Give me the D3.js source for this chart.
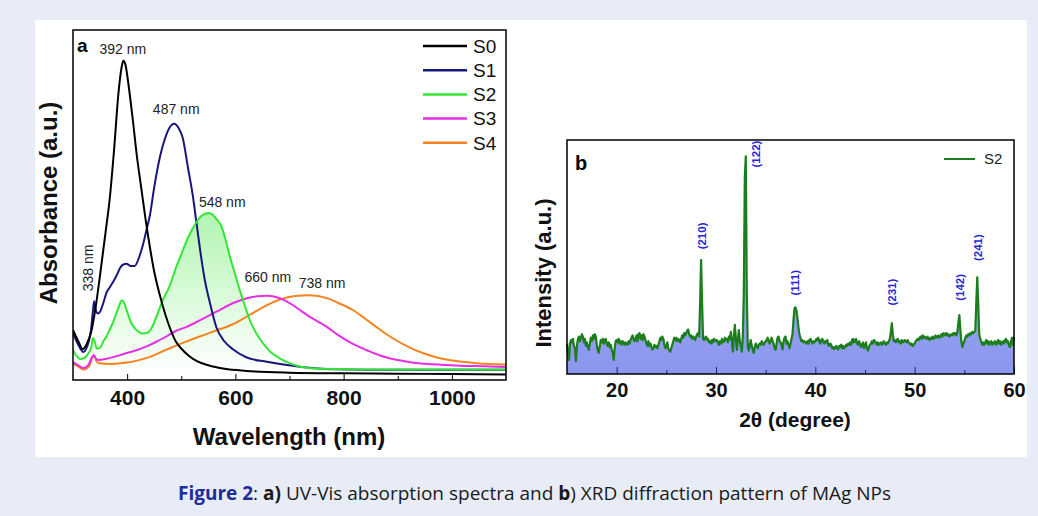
<!DOCTYPE html>
<html>
<head>
<meta charset="utf-8">
<script src="https://cdn.jsdelivr.net/npm/d3@7"></script>
<style>
  body { margin: 0; background: #e8ecf7; }
  svg { display: block; }
</style>
</head>
<body>
<svg id="fig" width="1038" height="516"></svg>
<script>
// UV-Vis spectra, [wavelength nm, absorbance a.u.]
const S0 = [[300,0.143],[310,0.11],[318,0.088],[326,0.105],[334,0.14],[342,0.21],[350,0.3],[360,0.42],[368,0.52],[376,0.66],[384,0.82],[390,0.895],[393,0.912],[397,0.9],[402,0.85],[410,0.75],[418,0.64],[426,0.55],[434,0.46],[442,0.38],[450,0.31],[460,0.245],[470,0.19],[480,0.145],[490,0.11],[500,0.09],[515,0.068],[530,0.053],[550,0.042],[580,0.032],[620,0.026],[700,0.021],[800,0.019],[900,0.018],[1000,0.017],[1100,0.016]];
const S1 = [[300,0.134],[310,0.1],[319,0.08],[326,0.095],[333,0.14],[337,0.2],[339,0.225],[342,0.2],[346,0.19],[350,0.195],[356,0.22],[362,0.25],[368,0.265],[374,0.28],[381,0.3],[387,0.32],[393,0.33],[399,0.332],[406,0.326],[414,0.326],[422,0.35],[429,0.385],[436,0.43],[442,0.47],[450,0.55],[461,0.64],[470,0.69],[478,0.72],[487,0.732],[495,0.72],[503,0.69],[512,0.61],[522,0.52],[528,0.45],[535,0.37],[543,0.29],[553,0.22],[565,0.15],[580,0.11],[596,0.087],[620,0.065],[658,0.052],[719,0.038],[780,0.031],[900,0.029],[1000,0.029],[1100,0.029]];
const S2 = [[300,0.086],[306,0.07],[313,0.06],[320,0.062],[328,0.075],[334,0.095],[337,0.12],[340,0.11],[344,0.09],[350,0.092],[356,0.11],[362,0.125],[368,0.145],[374,0.165],[380,0.19],[386,0.215],[390,0.228],[394,0.222],[400,0.195],[407,0.165],[414,0.148],[422,0.137],[430,0.133],[436,0.134],[444,0.145],[454,0.18],[465,0.225],[479,0.27],[490,0.32],[503,0.37],[512,0.405],[522,0.435],[532,0.46],[540,0.472],[550,0.477],[558,0.472],[566,0.458],[574,0.44],[582,0.4],[590,0.352],[600,0.3],[608,0.257],[618,0.21],[627,0.17],[640,0.13],[651,0.105],[665,0.08],[682,0.062],[700,0.048],[720,0.038],[760,0.032],[850,0.03],[1000,0.03],[1100,0.03]];
const S3 = [[300,0.051],[310,0.042],[319,0.034],[328,0.042],[335,0.065],[338,0.071],[342,0.062],[347,0.057],[360,0.06],[380,0.068],[399,0.077],[411,0.082],[436,0.096],[455,0.11],[473,0.125],[490,0.14],[510,0.152],[535,0.171],[566,0.196],[596,0.22],[620,0.233],[640,0.239],[658,0.241],[675,0.237],[690,0.228],[705,0.215],[719,0.2],[740,0.178],[769,0.152],[790,0.128],[817,0.103],[843,0.085],[867,0.07],[900,0.057],[923,0.051],[965,0.045],[1015,0.041],[1060,0.039],[1100,0.037]];
const S4 = [[300,0.046],[310,0.038],[320,0.03],[330,0.04],[336,0.065],[339,0.07],[343,0.055],[348,0.048],[370,0.046],[400,0.05],[420,0.056],[442,0.066],[470,0.085],[503,0.106],[535,0.125],[566,0.142],[596,0.16],[625,0.185],[650,0.207],[682,0.23],[710,0.24],[738,0.242],[769,0.234],[790,0.22],[817,0.2],[840,0.175],[861,0.151],[890,0.12],[923,0.092],[950,0.075],[984,0.06],[1020,0.052],[1046,0.048],[1100,0.044]];

const uvSeries = ["S0", "S1", "S2", "S3", "S4"];
const uvData = [S0, S1, S2, S3, S4];
const uvColors = ["#000000", "#17177e", "#33e633", "#e62ee6", "#f5841f"];
const uvPeaks = [
  { text: "392 nm", wl: 392, a: 0.912 },
  { text: "487 nm", wl: 487, a: 0.732 },
  { text: "548 nm", wl: 548, a: 0.477 },
  { text: "660 nm", wl: 660, a: 0.241 },
  { text: "738 nm", wl: 738, a: 0.242 }
];
const uvTicks = [400, 600, 800, 1000];
const uvMinor = [500, 700, 900];

// XRD pattern of S2: intensity (a.u.) every 0.1 degree from 15.0 to 60.0
const xrdStart = 15, xrdStep = 0.1;
const xrdIntensity = [
  13, 9, 6, 13, 14.5, 13.5, 15, 12, 11, 5.5,            // 15
  12, 15, 16, 14, 15.5, 17, 16, 13.5, 15, 12,           // 16
  13.5, 11.5, 10.3, 13, 15.5, 14, 16.5, 15, 17, 16,     // 17
  12.5, 10, 9, 12, 14.5, 13.5, 15, 13, 14.5, 15,        // 18
  13, 12, 13.5, 11.5, 12.5, 10.5, 9, 6, 11, 14,         // 19
  14.5, 13.5, 15, 13, 14, 12.5, 14, 13.5, 12.5, 13.5,   // 20
  13, 12.5, 14, 13, 14.5, 15.5, 16.5, 15, 14, 15,       // 21
  16.5, 14, 17, 17.5, 15, 16.5, 14.5, 17, 16, 14.5,     // 22
  13, 12, 14, 12, 13, 11.5, 10.5, 11, 12.5, 11.5,       // 23
  12, 11, 12.5, 14, 15.5, 14.5, 16, 15, 12.5, 11,       // 24
  12, 13.5, 11, 10, 9.5, 11, 12.5, 14, 15.5, 14.5,      // 25
  15.5, 14, 15, 14.5, 13.5, 15, 16.5, 15.5, 17.5, 16.5, // 26
  17.5, 18.5, 19, 17, 16, 16.5, 15, 16, 15.5, 14.5,     // 27
  16, 17, 17.5, 16, 30, 48.7, 30, 15, 14.5, 15.5,       // 28
  16, 14.5, 15, 13.5, 14, 13, 14.5, 13.5, 15, 14.5,     // 29
  14, 14.5, 13.5, 12.5, 14, 13, 15, 13.5, 14, 15.5,     // 30
  14.5, 15, 13.5, 16, 15, 18, 14, 9.5, 16, 21,          // 31
  15, 10.3, 15, 18.8, 14, 12, 9.5, 16, 35, 84,          // 32
  93, 35, 12, 10, 12.5, 14.5, 12, 10.5, 9, 11.5,        // 33
  13, 12, 11, 12.5, 13, 12.5, 14, 13, 12.5, 13.5,       // 34
  14, 14.5, 15.5, 14, 13, 14.5, 15.5, 14, 13, 11,       // 35
  10.3, 13, 15.5, 16, 14, 13.5, 12.5, 10.5, 14, 15.5,   // 36
  16, 13, 14, 12.5, 11, 13, 15, 17, 23, 28,             // 37
  28.5, 27, 24, 20, 17, 15.5, 14, 14.5, 13.5, 14,       // 38
  13.5, 13, 14, 13, 14.5, 15, 14, 13, 14, 13.5,         // 39
  14, 15, 14.5, 15.5, 14, 13, 14.5, 15, 14, 13,         // 40
  14, 13.5, 14.5, 12.5, 12, 13, 12.5, 11, 11.5, 10.5,   // 41
  11.5, 12, 11, 10.5, 12, 11.5, 12.5, 11, 12, 11,       // 42
  11.5, 12.5, 12, 13, 12.5, 13.5, 12.5, 14.5, 15, 13.5, // 43
  14, 15, 13, 12.5, 14, 13, 11.5, 12.5, 13.5, 11,       // 44
  12, 13.5, 11, 10, 11.5, 12.5, 13, 14, 13, 14.5,       // 45
  14, 13.5, 12.5, 13.5, 12.5, 13, 13.5, 12.5, 13.5, 14, // 46
  13, 12.5, 13.5, 13, 14, 15, 18, 21.7, 17, 14,         // 47
  14.5, 13.5, 14.5, 15, 13.5, 14, 13, 14.5, 13.5, 14,   // 48
  14.5, 14, 13.5, 14.5, 13.5, 13, 12.5, 13, 12, 12.5,   // 49
  13, 14, 14.5, 15, 14.5, 15.5, 16, 15, 16.5, 15.5,     // 50
  16, 15.5, 15, 16, 15, 14.5, 15.5, 15, 16, 15,         // 51
  15.5, 16.5, 15.5, 16, 16.5, 15.5, 16, 17, 16, 17.5,   // 52
  17, 16.5, 17.5, 16.5, 17, 16, 16.5, 17, 16.5, 17.5,   // 53
  17, 17.5, 16.5, 18, 22, 25.2, 19, 14, 11.5, 13,       // 54
  14, 15.5, 16.5, 16, 17, 16.5, 17.5, 17, 18, 17.5,     // 55
  18, 18.5, 30, 41.3, 30, 17, 15, 14, 12.5, 13.5,       // 56
  12.5, 13.5, 14.5, 13, 14, 12.5, 13.5, 14, 12.5, 13.5, // 57
  13, 14, 12.5, 13.5, 14.5, 13, 14, 12.5, 13.5, 14,     // 58
  13, 14.5, 15, 13.5, 14, 12, 11.5, 14, 15.5, 12.5,     // 59
  16                                                    // 60
];
const xrdPlanes = [
  { text: "(210)", deg: 28.6, at: 59 },
  { text: "(122)", deg: 34.0, at: 94 },
  { text: "(111)", deg: 38.0, at: 39 },
  { text: "(231)", deg: 47.7, at: 35 },
  { text: "(142)", deg: 54.6, at: 37 },
  { text: "(241)", deg: 56.4, at: 54 }
];
const xrdTicks = [20, 30, 40, 50, 60];
const xrdMinor = [25, 35, 45, 55];

const xrdS2 = xrdIntensity.map((v, i) => [xrdStart + i * xrdStep, v]);

const svg = d3.select("#fig");
const font = "Arial, 'Liberation Sans', sans-serif";

// white card behind both panels
svg.append("rect")
  .attr("x", 35).attr("y", 20)
  .attr("width", 992).attr("height", 437)
  .attr("fill", "#fff");

const defs = svg.append("defs");
const g2grad = defs.append("linearGradient")
  .attr("id", "s2fill")
  .attr("gradientUnits", "userSpaceOnUse")
  .attr("x1", 0).attr("x2", 0).attr("y1", 213).attr("y2", 372);
g2grad.append("stop").attr("offset", 0).attr("stop-color", "#33e633").attr("stop-opacity", 0.38);
g2grad.append("stop").attr("offset", 1).attr("stop-color", "#33e633").attr("stop-opacity", 0);

const xrdGrad = defs.append("linearGradient")
  .attr("id", "xrdfill")
  .attr("x1", 0).attr("x2", 0).attr("y1", 0).attr("y2", 1);
xrdGrad.append("stop").attr("offset", 0).attr("stop-color", "#aeb6f6");
xrdGrad.append("stop").attr("offset", 1).attr("stop-color", "#8a97ee");

// ---------------- panel a : UV-Vis ----------------
const xA = d3.scaleLinear().domain([300, 1100]).range([73, 506]);
const yA = d3.scaleLinear().domain([0, 1]).range([380, 30]);

const gA = svg.append("g");

defs.append("clipPath").attr("id", "clipA")
  .append("rect").attr("x", 73).attr("y", 30).attr("width", 433).attr("height", 350);

const lineA = d3.line()
  .x(d => xA(d[0]))
  .y(d => yA(d[1]))
  .curve(d3.curveMonotoneX);

const areaS2 = d3.area()
  .x(d => xA(d[0]))
  .y0(yA(0))
  .y1(d => yA(d[1]))
  .curve(d3.curveMonotoneX);

const plotA = gA.append("g").attr("clip-path", "url(#clipA)");

plotA.append("path")
  .datum(S2)
  .attr("d", areaS2)
  .attr("fill", "url(#s2fill)");

// draw S4 first so the earlier series sit on top, like the original
[4, 3, 1, 2, 0].forEach(i => {
  plotA.append("path")
    .datum(uvData[i])
    .attr("d", lineA)
    .attr("fill", "none")
    .attr("stroke", uvColors[i])
    .attr("stroke-width", 2);
});

// axis with inward ticks
gA.append("g")
  .attr("transform", "translate(0,380)")
  .call(d3.axisBottom(xA).tickValues(uvTicks).tickSize(-6).tickPadding(10).tickFormat(d3.format("d")))
  .call(g => g.select(".domain").remove())
  .call(g => g.selectAll("text")
    .style("font-family", font).style("font-size", "21px").style("font-weight", "bold").attr("fill", "#111"));

gA.append("g")
  .attr("transform", "translate(0,380)")
  .call(d3.axisBottom(xA).tickValues(uvMinor).tickSize(-4).tickFormat(""))
  .call(g => g.select(".domain").remove());

gA.append("rect")
  .attr("x", 73).attr("y", 30).attr("width", 433).attr("height", 350)
  .attr("fill", "none").attr("stroke", "#000").attr("stroke-width", 1.5);

gA.append("text")
  .attr("x", 289).attr("y", 445)
  .attr("text-anchor", "middle")
  .style("font-family", font).style("font-size", "24px").style("font-weight", "bold")
  .attr("fill", "#111")
  .text("Wavelength (nm)");

gA.append("text")
  .attr("transform", "translate(57,203) rotate(-90)")
  .attr("text-anchor", "middle")
  .style("font-family", font).style("font-size", "24px").style("font-weight", "bold")
  .attr("fill", "#111")
  .text("Absorbance (a.u.)");

gA.append("text")
  .attr("x", 77).attr("y", 52)
  .style("font-family", font).style("font-size", "19px").style("font-weight", "bold")
  .text("a");

// peak labels
const peakOffsets = [[0, -7], [2, -10], [15, -6], [0, -14], [12, -7]];
gA.selectAll(".peak")
  .data(uvPeaks)
  .join("text")
  .attr("class", "peak")
  .attr("x", (d, i) => xA(d.wl) + peakOffsets[i][0])
  .attr("y", (d, i) => yA(d.a) + peakOffsets[i][1])
  .attr("text-anchor", "middle")
  .style("font-family", font).style("font-size", "14px")
  .attr("fill", "#222")
  .text(d => d.text);

gA.append("text")
  .attr("transform", "translate(93,268) rotate(-90)")
  .attr("text-anchor", "middle")
  .style("font-family", font).style("font-size", "14px")
  .attr("fill", "#222")
  .text("338 nm");

// legend
const legA = gA.append("g").attr("transform", "translate(423,46)");
const legItems = legA.selectAll("g")
  .data(uvSeries)
  .join("g")
  .attr("transform", (d, i) => `translate(0,${i * 24.2})`);
legItems.append("line")
  .attr("x1", 0).attr("x2", 44)
  .attr("stroke", (d, i) => uvColors[i])
  .attr("stroke-width", 2.5);
legItems.append("text")
  .attr("x", 50).attr("dy", "0.36em")
  .style("font-family", font).style("font-size", "19px")
  .attr("fill", "#111")
  .text(d => d);

// ---------------- panel b : XRD ----------------
const xB = d3.scaleLinear().domain([15, 60]).range([567, 1014]);
const yB = d3.scaleLinear().domain([0, 100]).range([374, 140]);

const gB = svg.append("g");

const areaB = d3.area()
  .x(d => xB(d[0]))
  .y0(yB(0))
  .y1(d => yB(d[1]));

gB.append("path")
  .datum(xrdS2)
  .attr("d", areaB)
  .attr("fill", "url(#xrdfill)");

gB.append("path")
  .datum(xrdS2)
  .attr("d", d3.line().x(d => xB(d[0])).y(d => yB(d[1])))
  .attr("fill", "none")
  .attr("stroke", "#1b7d1b")
  .attr("stroke-width", 2.2)
  .attr("stroke-linejoin", "round");

gB.append("g")
  .attr("transform", "translate(0,374)")
  .call(d3.axisBottom(xB).tickValues(xrdTicks).tickSize(-7).tickPadding(9))
  .call(g => g.select(".domain").remove())
  .call(g => g.selectAll("line").attr("stroke", "#1a2a6a"))
  .call(g => g.selectAll("text")
    .style("font-family", font).style("font-size", "20px").style("font-weight", "bold").attr("fill", "#111"));

gB.append("g")
  .attr("transform", "translate(0,374)")
  .call(d3.axisBottom(xB).tickValues(xrdMinor).tickSize(-4).tickFormat(""))
  .call(g => g.select(".domain").remove())
  .call(g => g.selectAll("line").attr("stroke", "#1a2a6a"));

gB.append("rect")
  .attr("x", 567).attr("y", 140).attr("width", 447).attr("height", 234)
  .attr("fill", "none").attr("stroke", "#000").attr("stroke-width", 1.5);

gB.selectAll(".plane")
  .data(xrdPlanes)
  .join("text")
  .attr("class", "plane")
  .attr("transform", d => `translate(${xB(d.deg) + 4},${yB(d.at)}) rotate(-90)`)
  .attr("text-anchor", "middle")
  .style("font-family", font).style("font-size", "11.5px").style("font-weight", "bold")
  .attr("fill", "#2626d9")
  .text(d => d.text);

gB.append("text")
  .attr("x", 575).attr("y", 170)
  .style("font-family", font).style("font-size", "20px").style("font-weight", "bold")
  .text("b");

gB.append("line")
  .attr("x1", 944).attr("x2", 975).attr("y1", 159).attr("y2", 159)
  .attr("stroke", "#1b7d1b").attr("stroke-width", 2);
gB.append("text")
  .attr("x", 984).attr("y", 159).attr("dy", "0.36em")
  .style("font-family", font).style("font-size", "15px")
  .attr("fill", "#222")
  .text("S2");

gB.append("text")
  .attr("x", 795).attr("y", 427)
  .attr("text-anchor", "middle")
  .style("font-family", font).style("font-size", "21px").style("font-weight", "bold")
  .attr("fill", "#111")
  .text("2θ (degree)");

gB.append("text")
  .attr("transform", "translate(551,273) rotate(-90)")
  .attr("text-anchor", "middle")
  .style("font-family", font).style("font-size", "22px").style("font-weight", "bold")
  .attr("fill", "#111")
  .text("Intensity (a.u.)");

// ---------------- caption ----------------
const cap = svg.append("text")
  .attr("x", 178).attr("y", 500)
  .style("font-family", "'Open Sans', sans-serif").style("font-size", "19px")
  .attr("fill", "#1a1a1a");
cap.append("tspan").attr("fill", "#1f2d9b").style("font-weight", "bold").text("Figure 2");
cap.append("tspan").text(": ");
cap.append("tspan").style("font-weight", "bold").text("a)");
cap.append("tspan").text(" UV-Vis absorption spectra and ");
cap.append("tspan").style("font-weight", "bold").text("b");
cap.append("tspan").text(") XRD diffraction pattern of MAg NPs");
</script>
</body>
</html>
